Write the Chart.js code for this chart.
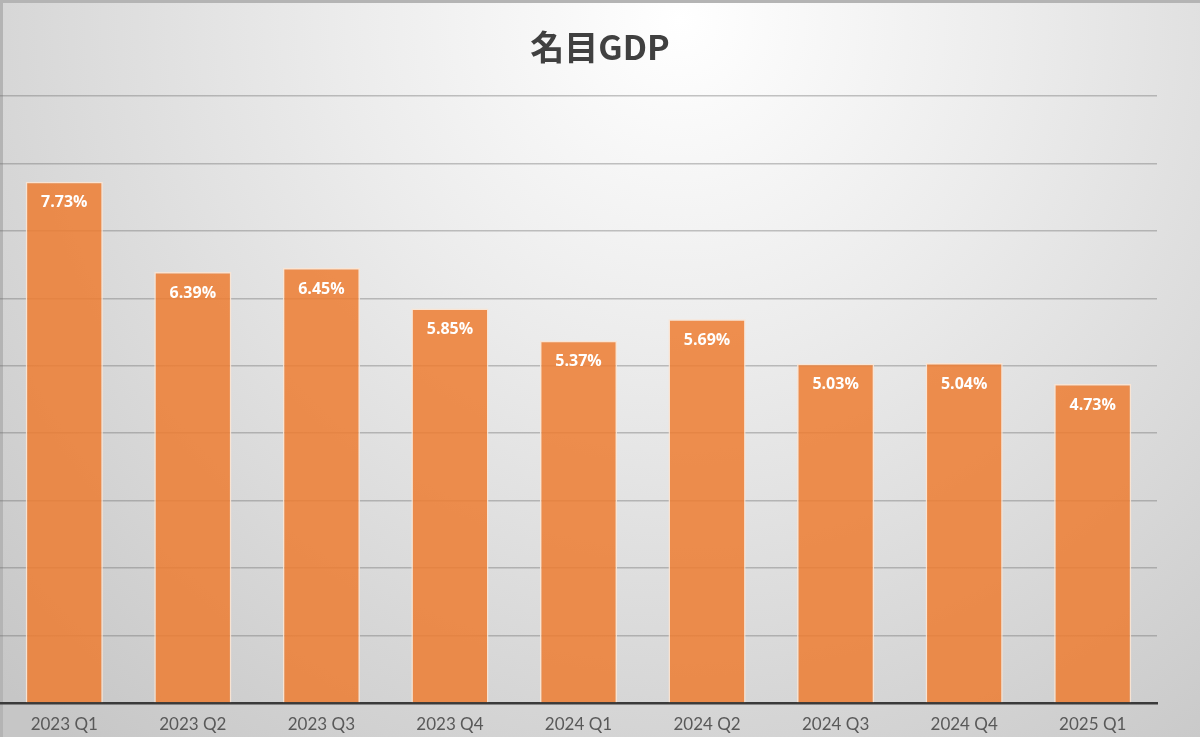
<!DOCTYPE html>
<html>
<head>
<meta charset="utf-8">
<script src="https://cdn.jsdelivr.net/npm/chart.js@4"></script>
<style>
  html, body { margin: 0; padding: 0; }
  #wrap { width: 1200px; height: 737px; }
</style>
</head>
<body>
<div id="wrap"><canvas id="grafica"></canvas></div>
<script>
const categorias = ['2023 Q1', '2023 Q2', '2023 Q3', '2023 Q4', '2024 Q1', '2024 Q2', '2024 Q3', '2024 Q4', '2025 Q1'];
const valores = [7.73, 6.39, 6.45, 5.85, 5.37, 5.69, 5.03, 5.04, 4.73];
const titulo = '名目GDP';

// background: soft radial gradient + thin frame
const fondo = {
    id: 'fondo',
    beforeDraw(chart) {
        const ctx = chart.ctx;
        const w = chart.width, h = chart.height;
        ctx.save();
        const g = ctx.createRadialGradient(680, 20, 0, 680, 20, 950);
        g.addColorStop(0, '#ffffff');
        g.addColorStop(0.35, '#ececec');
        g.addColorStop(1, '#c6c6c6');
        ctx.fillStyle = g;
        ctx.fillRect(0, 0, w, h);
        ctx.strokeStyle = '#b4b4b4';
        ctx.lineWidth = 3;
        ctx.beginPath();
        ctx.moveTo(1.5, h);
        ctx.lineTo(1.5, 1.5);
        ctx.lineTo(w, 1.5);
        ctx.stroke();
        ctx.restore();
    }
};

// title centred on the whole canvas
const encabezado = {
    id: 'encabezado',
    afterDraw(chart) {
        const ctx = chart.ctx;
        ctx.save();
        ctx.fillStyle = '#404040';
        ctx.font = 'bold 34px "Noto Sans CJK JP", sans-serif';
        ctx.textAlign = 'center';
        ctx.textBaseline = 'middle';
        ctx.fillText(titulo, chart.width / 2, 47);
        ctx.restore();
    }
};

// value labels inside the top of each bar
const etiquetas = {
    id: 'etiquetas',
    afterDatasetsDraw(chart) {
        const ctx = chart.ctx;
        const meta = chart.getDatasetMeta(0);
        ctx.save();
        ctx.fillStyle = '#ffffff';
        ctx.font = 'bold 16px "Open Sans", "Noto Sans", sans-serif';
        ctx.textAlign = 'center';
        ctx.textBaseline = 'middle';
        meta.data.forEach((bar, i) => {
            ctx.fillText(valores[i].toFixed(2) + '%', bar.x, bar.y + 21);
        });
        ctx.restore();
    }
};

const grafica = new Chart(document.getElementById('grafica').getContext('2d'), {
    type: 'bar',
    data: {
        labels: categorias,
        datasets: [{
            label: titulo,
            data: valores,
            backgroundColor: 'rgba(237, 125, 49, 0.85)',
            borderColor: 'rgba(252, 228, 210, 0.9)',
            borderWidth: 1.5,
            barPercentage: 0.6,
            categoryPercentage: 1
        }]
    },
    options: {
        responsive: true,
        maintainAspectRatio: false,
        animation: false,
        layout: { padding: { left: 0, right: 43, top: 96, bottom: -9 } },
        plugins: {
            legend: { display: false },
            tooltip: { enabled: false },
            title: { display: false }
        },
        scales: {
            x: {
                grid: { display: false, drawTicks: false },
                border: { display: true, color: '#3a3a3a', width: 2.5 },
                ticks: {
                    color: '#595959',
                    padding: 13,
                    font: { family: 'Lato, "Open Sans", sans-serif', size: 17, lineHeight: 1 }
                }
            },
            y: {
                min: 0,
                max: 9,
                ticks: { display: false, stepSize: 1 },
                grid: { color: 'rgba(110, 110, 110, 0.4)', lineWidth: 1.5, drawTicks: false },
                border: { display: false }
            }
        }
    },
    plugins: [fondo, encabezado, etiquetas]
});
</script>
</body>
</html>
